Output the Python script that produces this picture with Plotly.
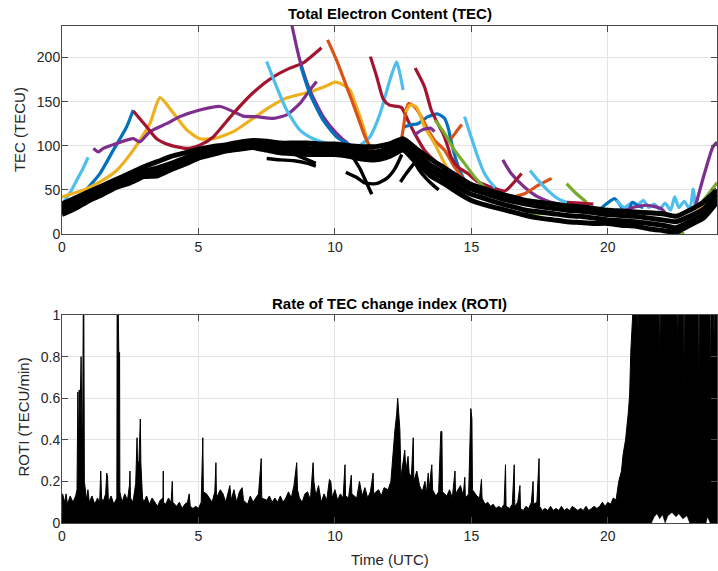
import plotly.graph_objects as go

# ---------------- axis ticks ----------------
X_TICKS = [0, 5, 10, 15, 20]
TEC_Y_TICKS = [0, 50, 100, 150, 200]
ROTI_Y_TICKS = [0, 0.2, 0.4, 0.6, 0.8, 1]
ROTI_Y_TICK_TEXT = ["0", "0.2", "0.4", "0.6", "0.8", "1"]

COLORS = {
    "blue": "#0072BD", "orange": "#D95319", "yellow": "#EDB120", "purple": "#7E2F8E",
    "green": "#77AC30", "lightblue": "#4DBEEE", "darkred": "#A2142F",
}

# ---------------- TEC: coloured satellite arcs (time h, TECU) ----------------
LIGHTBLUE_1 = [(0.05, 36), (0.3, 47), (0.54, 61), (0.75, 73), (0.96, 87)]
BLUE_1 = [(0.4, 38), (0.66, 42), (1.0, 54), (1.39, 68.5), (1.88, 95), (2.37, 121.5), (2.61, 140.5)]
DARKRED_1 = [(2.62, 139), (3.1, 121.5), (3.47, 108), (3.96, 100.7), (4.57, 97), (5.05, 100.7), (5.54, 110),
             (6.28, 136.7), (7.0, 160), (7.74, 178), (8.35, 188), (8.84, 194), (9.51, 211)]
YELLOW_1 = [(0.0, 42), (0.4, 46), (0.78, 49.5), (1.39, 59), (2.0, 72), (2.61, 95), (3.22, 125), (3.59, 154.5),
            (4.08, 137), (4.57, 118), (5.05, 108), (5.54, 108), (6.28, 116), (7.0, 131), (7.62, 144), (8.23, 154),
            (9.08, 161), (9.7, 168), (10.0, 172), (10.3, 169), (10.55, 163), (10.79, 144), (11.04, 121.5),
            (11.22, 102.6), (11.34, 95)]
PURPLE_1 = [(1.15, 97), (1.33, 93), (1.51, 97), (2.0, 102.6), (2.61, 108), (2.86, 104.5), (3.22, 116), (3.83, 125),
            (4.32, 133), (5.05, 140.5), (5.79, 144.5), (6.28, 138.6), (6.64, 133.6), (7.13, 133), (7.74, 131),
            (8.23, 135), (8.72, 148), (9.08, 163), (9.33, 172.7)]
LIGHTBLUE_2 = [(7.5, 195.5), (7.86, 167), (8.23, 140.5), (8.72, 117.7), (9.2, 108), (9.82, 102), (10.4, 99.5),
               (10.92, 100.7), (11.28, 110), (11.65, 136), (12.01, 174), (12.26, 195), (12.38, 182), (12.5, 163)]
PURPLE_2 = [(8.4, 240), (8.71, 197.4), (9.08, 163), (9.57, 133), (10.06, 114), (10.55, 100.7), (10.8, 96)]
BLUE_2 = [(8.75, 190), (9.08, 159), (9.57, 129), (10.06, 110), (10.43, 102.6), (10.7, 98)]
ORANGE_1 = [(9.73, 220), (10.06, 197), (10.43, 167), (10.79, 137), (11.1, 110.6), (11.28, 99.5), (11.47, 93.6),
            (11.65, 89.8)]
DARKRED_2 = [(11.3, 201), (11.53, 178.5), (11.77, 153), (12.0, 146), (12.43, 143.5), (12.67, 129), (12.92, 114),
             (13.28, 95), (13.77, 80), (14.26, 68.5), (14.75, 59)]
DARKRED_3 = [(12.94, 188), (13.28, 167), (13.53, 140.5), (13.77, 125), (13.96, 114), (14.14, 98.7), (14.26, 87),
             (14.5, 76), (14.87, 68.5), (15.24, 59), (15.73, 53), (16.09, 47.6)]
LIGHTBLUE_3 = [(14.75, 133), (14.99, 110), (15.24, 87), (15.48, 68.5), (15.85, 53), (16.2, 44)]
GREEN_1 = [(13.67, 129), (14.02, 114), (14.38, 95), (14.75, 80), (15.12, 64.6), (15.48, 53), (15.97, 44), (16.4, 42)]
BLUE_3 = [(12.55, 121.5), (12.8, 124), (13.04, 125), (13.41, 133), (13.77, 136), (14.02, 131), (14.14, 121.5),
          (14.26, 105), (14.4, 88), (14.6, 70), (14.87, 55), (15.2, 47)]
ORANGE_2 = [(11.9, 88), (12.2, 95), (12.45, 110), (12.6, 140), (12.7, 148), (12.92, 144), (13.16, 133),
            (13.41, 118), (13.65, 106), (14.02, 95), (14.38, 76), (14.75, 61), (15.1, 52)]
YELLOW_2 = [(12.6, 138), (12.75, 146), (12.98, 144), (13.28, 121.5), (13.65, 102.6), (14.02, 80), (14.38, 61),
            (14.8, 50)]
ORANGE_3 = [(14.26, 108), (14.45, 116), (14.65, 124)]
PURPLE_S = [(12.9, 112), (13.2, 118), (13.5, 120), (13.65, 116)]
PURPLE_3 = [(16.15, 84), (16.46, 68.5), (16.95, 53), (17.44, 42), (17.92, 36), (18.5, 32)]
DARKRED_4 = [(15.85, 51.4), (16.22, 48.7), (16.46, 55), (16.84, 68.5)]
ORANGE_4 = [(16.5, 42), (16.95, 45.7), (17.44, 55), (17.94, 63)]
LIGHTBLUE_4 = [(17.15, 72), (17.44, 61), (17.8, 49.5), (18.17, 40), (18.66, 34), (19.2, 30), (19.6, 27)]
GREEN_2 = [(18.49, 57), (18.78, 47.6), (19.22, 36)]
DARKRED_5 = [(18.5, 36), (19.0, 35), (19.47, 34)]
BLUE_4 = [(19.6, 25), (19.94, 34), (20.26, 40), (20.56, 27)]
BLUE_5 = [(20.8, 28), (20.9, 36), (21.1, 32), (21.3, 30)]
LIGHTBLUE_5 = [(20.3, 38), (20.6, 30), (20.9, 36), (21.1, 33), (21.3, 38), (21.5, 30), (21.7, 34), (21.9, 28),
               (22.1, 35), (22.3, 27), (22.45, 42), (22.6, 30), (22.8, 37), (23.0, 28), (23.13, 51), (23.2, 30)]
PURPLE_4 = [(20.49, 25), (20.98, 30.6), (21.46, 32.5), (21.95, 28.8), (22.13, 23)]
PURPLE_5 = [(23.17, 27), (23.54, 68.5), (23.85, 98.7), (24.0, 104)]
GREEN_3 = [(23.25, 30), (23.6, 42), (24.0, 58)]
ORANGE_5 = [(23.25, 23), (23.6, 32), (24.0, 44)]
YELLOW_3 = [(23.25, 25), (23.6, 35), (24.0, 48)]
GREEN_4 = [(16.9, 23), (17.5, 23), (18.0, 23)]
GREEN_5 = [(22.3, 1), (22.8, 0.5)]

ARCS = [
    ("lightblue", LIGHTBLUE_1), ("blue", BLUE_1), ("yellow", YELLOW_1), ("purple", PURPLE_1),
    ("darkred", DARKRED_1), ("lightblue", LIGHTBLUE_2), ("purple", PURPLE_2), ("blue", BLUE_2),
    ("orange", ORANGE_1), ("darkred", DARKRED_2), ("blue", BLUE_3), ("orange", ORANGE_2), ("yellow", YELLOW_2),
    ("purple", PURPLE_S), ("darkred", DARKRED_3), ("green", GREEN_1), ("lightblue", LIGHTBLUE_3),
    ("orange", ORANGE_3), ("purple", PURPLE_3), ("darkred", DARKRED_4), ("orange", ORANGE_4),
    ("lightblue", LIGHTBLUE_4), ("green", GREEN_2), ("darkred", DARKRED_5), ("blue", BLUE_4),
    ("lightblue", LIGHTBLUE_5), ("blue", BLUE_5), ("purple", PURPLE_4), ("green", GREEN_4), ("green", GREEN_5),
    ("yellow", YELLOW_3), ("orange", ORANGE_5), ("green", GREEN_3), ("purple", PURPLE_5),
]

# ---------------- TEC: black (dense) satellite arcs ----------------
BLACK_TIME = [0, 0.5, 1, 1.5, 2, 2.5, 3, 3.5, 4, 4.5, 5, 5.5, 6, 6.5, 7, 7.5, 8, 8.5, 9, 9.5, 10, 10.5, 11, 11.5,
              12, 12.5, 13, 13.5, 14, 14.5, 15, 15.5, 16, 16.5, 17, 17.5, 18, 18.5, 19, 19.5, 20, 20.5, 21, 21.5,
              22, 22.5, 23, 23.5, 24]
BLACK_A = [34, 41, 48, 55, 62, 69, 76, 82, 88, 92, 96, 99, 101, 104, 106, 105, 103, 103, 103, 102, 102, 100, 99, 99,
           102, 108, 96, 85, 75, 65, 56, 51, 46, 42, 38, 36, 34, 32, 31, 29, 27, 26, 25, 24, 23, 20, 27, 36, 50]
BLACK_B = [30, 37, 45, 51, 58, 64, 71, 75, 80, 86, 92, 96, 98, 101, 103, 102, 99, 98, 98, 97, 97, 96, 94, 93,
           97, 103, 91, 78, 69, 59, 51, 46, 41, 37, 34, 31, 29, 27, 26, 24, 22, 21, 20, 18, 16, 14, 20, 28, 45]
BLACK_C = [26, 33, 41, 47, 55, 61, 68, 70, 76, 82, 89, 93, 96, 98, 100, 98, 95, 94, 94, 94, 93, 92, 90, 88,
           92, 99, 86, 72, 63, 53, 45, 40, 35, 31, 27, 25, 23, 21, 20, 18, 16, 15, 14, 12, 10, 7, 14, 22, 40]
BLACK_D = [22, 29, 38, 45, 53, 58, 65, 66, 73, 79, 86, 90, 94, 96, 98, 95, 92, 91, 90, 90, 90, 88, 85, 84,
           88, 95, 80, 66, 57, 47, 38, 33, 29, 25, 21, 18, 16, 14, 13, 12, 12, 10, 9, 6, 4, 2, 10, 18, 36]
BLACK_BRANCH_1 = [(7.5, 85.5), (8.0, 84), (8.5, 83), (9.0, 80), (9.3, 77)]
BLACK_BRANCH_2 = [(8.2, 95), (8.7, 88), (9.3, 80)]
BLACK_BRANCH_3 = [(10.4, 70), (10.8, 64), (11.1, 58), (11.5, 57), (11.9, 63), (12.2, 74), (12.45, 90)]
BLACK_BRANCH_4 = [(10.6, 90), (10.9, 75), (11.1, 62), (11.35, 45)]
BLACK_BRANCH_5 = [(12.4, 59), (12.6, 68), (12.9, 80)]
BLACK_BRANCH_6 = [(12.7, 95), (13.1, 72), (13.5, 58), (13.8, 50)]
BLACK_BRANCHES = [BLACK_BRANCH_1, BLACK_BRANCH_2, BLACK_BRANCH_3, BLACK_BRANCH_4, BLACK_BRANCH_5, BLACK_BRANCH_6]

# ---------------- ROTI: upper envelope of all satellites (time h, TECU/min) ----------------
ROTI_UPPER = [
    (0, 0.0), (0.02, 0.14), (0.1, 0.1), (0.15, 0.14), (0.2, 0.09), (0.3, 0.13), (0.4, 0.1), (0.5, 0.13),
    (0.55, 0.16), (0.58, 0.63), (0.6, 0.3), (0.63, 0.64), (0.66, 0.5), (0.7, 0.8), (0.72, 0.55), (0.75, 0.3),
    (0.78, 1.05), (0.8, 1.05), (0.82, 0.2), (0.86, 0.15), (0.9, 0.11), (0.95, 0.16), (1.0, 0.1), (1.1, 0.13),
    (1.2, 0.09), (1.3, 0.12), (1.38, 0.1), (1.42, 0.25), (1.45, 0.12), (1.5, 0.1), (1.6, 0.14), (1.64, 0.24),
    (1.67, 0.22), (1.7, 0.1), (1.8, 0.13), (1.9, 0.09), (1.97, 0.11), (2.01, 0.12), (2.02, 1.05), (2.06, 1.05),
    (2.08, 0.82), (2.11, 0.82), (2.12, 0.15), (2.2, 0.1), (2.3, 0.14), (2.4, 0.11), (2.47, 0.18), (2.49, 0.25),
    (2.51, 0.12), (2.6, 0.1), (2.7, 0.19), (2.75, 0.41), (2.77, 0.28), (2.82, 0.3), (2.87, 0.5), (2.89, 0.29),
    (2.95, 0.12), (3.0, 0.1), (3.1, 0.13), (3.2, 0.09), (3.3, 0.12), (3.4, 0.1), (3.5, 0.08), (3.6, 0.11),
    (3.7, 0.12), (3.71, 0.25), (3.72, 0.1), (3.8, 0.09), (3.9, 0.12), (4.0, 0.1), (4.04, 0.2), (4.06, 0.1),
    (4.2, 0.08), (4.3, 0.1), (4.4, 0.07), (4.5, 0.09), (4.6, 0.1), (4.66, 0.14), (4.7, 0.08), (4.8, 0.07),
    (4.9, 0.08), (5.0, 0.07), (5.1, 0.1), (5.16, 0.41), (5.18, 0.15), (5.3, 0.14), (5.4, 0.12), (5.5, 0.1),
    (5.6, 0.15), (5.64, 0.29), (5.66, 0.12), (5.8, 0.16), (5.9, 0.14), (6.0, 0.1), (6.15, 0.18), (6.2, 0.11),
    (6.3, 0.16), (6.4, 0.1), (6.5, 0.15), (6.6, 0.17), (6.65, 0.11), (6.8, 0.09), (6.9, 0.13), (7.0, 0.1),
    (7.1, 0.12), (7.2, 0.14), (7.3, 0.31), (7.32, 0.12), (7.5, 0.11), (7.6, 0.13), (7.7, 0.1), (7.8, 0.12),
    (7.9, 0.1), (8.0, 0.13), (8.1, 0.1), (8.2, 0.12), (8.3, 0.15), (8.4, 0.12), (8.5, 0.18), (8.6, 0.29),
    (8.63, 0.16), (8.7, 0.12), (8.8, 0.1), (8.9, 0.14), (9.0, 0.15), (9.1, 0.11), (9.2, 0.29), (9.23, 0.2),
    (9.3, 0.13), (9.4, 0.18), (9.5, 0.1), (9.6, 0.14), (9.7, 0.11), (9.8, 0.21), (9.85, 0.2), (9.9, 0.12),
    (10.0, 0.16), (10.1, 0.11), (10.2, 0.14), (10.3, 0.12), (10.37, 0.28), (10.39, 0.13), (10.5, 0.12),
    (10.6, 0.23), (10.62, 0.14), (10.8, 0.12), (10.9, 0.2), (11.0, 0.13), (11.1, 0.17), (11.2, 0.12),
    (11.3, 0.15), (11.4, 0.24), (11.42, 0.14), (11.6, 0.16), (11.7, 0.13), (11.8, 0.17), (11.95, 0.16),
    (12.05, 0.2), (12.2, 0.45), (12.26, 0.52), (12.3, 0.6), (12.34, 0.5), (12.38, 0.45), (12.42, 0.22),
    (12.5, 0.3), (12.56, 0.35), (12.6, 0.25), (12.68, 0.32), (12.72, 0.24), (12.8, 0.22), (12.87, 0.41),
    (12.89, 0.2), (13.0, 0.25), (13.1, 0.18), (13.2, 0.15), (13.3, 0.2), (13.35, 0.14), (13.42, 0.24),
    (13.44, 0.15), (13.55, 0.28), (13.58, 0.16), (13.7, 0.13), (13.8, 0.15), (13.88, 0.44), (13.92, 0.44),
    (13.94, 0.15), (14.1, 0.13), (14.2, 0.16), (14.3, 0.12), (14.4, 0.25), (14.42, 0.14), (14.6, 0.18),
    (14.7, 0.13), (14.76, 0.22), (14.78, 0.12), (14.9, 0.14), (14.98, 0.55), (15.02, 0.5), (15.04, 0.16),
    (15.2, 0.13), (15.3, 0.12), (15.37, 0.21), (15.39, 0.12), (15.5, 0.09), (15.6, 0.1), (15.7, 0.08),
    (15.8, 0.09), (15.9, 0.07), (16.0, 0.08), (16.1, 0.07), (16.2, 0.09), (16.25, 0.28), (16.27, 0.08),
    (16.4, 0.07), (16.5, 0.09), (16.57, 0.28), (16.59, 0.08), (16.7, 0.1), (16.78, 0.18), (16.8, 0.07),
    (16.9, 0.06), (17.0, 0.08), (17.1, 0.07), (17.2, 0.1), (17.26, 0.2), (17.28, 0.09), (17.4, 0.1),
    (17.48, 0.31), (17.5, 0.08), (17.6, 0.06), (17.7, 0.07), (17.8, 0.06), (17.9, 0.08), (18.0, 0.06),
    (18.1, 0.07), (18.2, 0.06), (18.3, 0.08), (18.4, 0.06), (18.5, 0.07), (18.6, 0.06), (18.7, 0.08),
    (18.8, 0.07), (18.9, 0.06), (19.0, 0.07), (19.1, 0.06), (19.2, 0.08), (19.3, 0.06), (19.4, 0.07),
    (19.5, 0.08), (19.6, 0.07), (19.7, 0.08), (19.8, 0.1), (19.9, 0.08), (20.0, 0.1), (20.1, 0.09),
    (20.2, 0.12), (20.3, 0.11), (20.4, 0.2), (20.5, 0.25), (20.56, 0.33), (20.65, 0.4), (20.75, 0.53),
    (20.8, 0.62), (20.84, 0.82), (20.9, 0.95), (20.93, 1.05), (21.09, 1.05), (21.11, 0.9), (21.13, 1.05),
    (21.88, 1.05), (21.9, 0.67), (21.92, 1.05), (22.54, 1.05), (22.56, 0.8), (22.58, 1.05), (22.78, 1.05),
    (22.8, 0.55), (22.82, 1.05), (23.31, 1.05), (23.33, 0.45), (23.35, 1.05), (23.74, 1.05), (23.76, 0.6),
    (23.78, 1.05), (23.88, 1.05), (23.9, 0.75), (23.92, 1.05), (24.0, 1.05),
]
# lower envelope (gaps with no data near zero during the storm)
ROTI_LOWER = [
    (0, 0), (21.6, 0), (21.7, 0.03), (21.8, 0.045), (21.9, 0.02), (22.0, 0.04), (22.1, 0), (22.2, 0.035),
    (22.35, 0.05), (22.5, 0.03), (22.6, 0.045), (22.75, 0.02), (22.9, 0.035), (23.0, 0), (23.6, 0),
    (23.65, 0.03), (23.75, 0), (24.0, 0),
]

FONT = "Liberation Sans, Arial, Helvetica, sans-serif"
TEXT = "#262626"
GRID = "#e3e3e3"
AXLINE = "#4a4a4a"

fig = go.Figure()


def xs(points):
    return [p[0] for p in points]


def ys(points):
    return [p[1] for p in points]


for key, pts in ARCS:
    fig.add_trace(go.Scatter(x=xs(pts), y=ys(pts), mode="lines", xaxis="x", yaxis="y",
                             line=dict(color=COLORS[key], width=3.2, shape="spline", smoothing=0.6),
                             showlegend=False, hoverinfo="skip"))

for series in (BLACK_A, BLACK_B, BLACK_C, BLACK_D):
    fig.add_trace(go.Scatter(x=BLACK_TIME, y=series, mode="lines", xaxis="x", yaxis="y",
                             line=dict(color="black", width=5.0, shape="spline", smoothing=0.5),
                             showlegend=False, hoverinfo="skip"))
for pts in BLACK_BRANCHES:
    fig.add_trace(go.Scatter(x=xs(pts), y=ys(pts), mode="lines", xaxis="x", yaxis="y",
                             line=dict(color="black", width=3.4, shape="spline", smoothing=0.6),
                             showlegend=False, hoverinfo="skip"))

fig.add_trace(go.Scatter(x=xs(ROTI_LOWER), y=ys(ROTI_LOWER), mode="lines", xaxis="x2", yaxis="y2",
                         line=dict(color="black", width=0.5), showlegend=False, hoverinfo="skip"))
fig.add_trace(go.Scatter(x=xs(ROTI_UPPER), y=ys(ROTI_UPPER), mode="lines", xaxis="x2", yaxis="y2",
                         fill="tonexty", fillcolor="black",
                         line=dict(color="black", width=1.0), showlegend=False, hoverinfo="skip"))

axis_common = dict(
    showgrid=True, gridcolor=GRID, gridwidth=1, zeroline=False,
    showline=True, linecolor=AXLINE, linewidth=1, mirror="ticks",
    ticks="inside", ticklen=6, tickwidth=1, tickcolor=AXLINE,
    tickfont=dict(family=FONT, size=14, color=TEXT),
)

TOP_DOMAIN = [0.5815, 1.0]
BOT_DOMAIN = [0.0, 0.4185]

fig.update_layout(
    width=718, height=571,
    margin=dict(l=62, r=1, t=26, b=48),
    paper_bgcolor="white", plot_bgcolor="white",
    font=dict(family=FONT, color=TEXT),
    showlegend=False,
    xaxis=dict(axis_common, domain=[0, 1], range=[0, 24], anchor="y", tickvals=X_TICKS),
    yaxis=dict(axis_common, domain=TOP_DOMAIN, range=[0, 235.7], anchor="x", tickvals=TEC_Y_TICKS,
               ticklabelstandoff=-2),
    xaxis2=dict(axis_common, domain=[0, 1], range=[0, 24], anchor="y2", tickvals=X_TICKS),
    yaxis2=dict(axis_common, domain=BOT_DOMAIN, range=[0, 1], anchor="x2", tickvals=ROTI_Y_TICKS,
                ticktext=ROTI_Y_TICK_TEXT, ticklabelstandoff=-2),
    annotations=[
        dict(text="<b>Total Electron Content (TEC)</b>", x=0.5, y=1.0252, xref="paper", yref="paper",
             showarrow=False, xanchor="center", yanchor="middle", font=dict(family=FONT, size=15, color="black")),
        dict(text="<b>Rate of TEC change index (ROTI)</b>", x=0.5, y=0.4416, xref="paper", yref="paper",
             showarrow=False, xanchor="center", yanchor="middle", font=dict(family=FONT, size=15, color="black")),
        dict(text="Time (UTC)", x=0.5, y=-0.0744, xref="paper", yref="paper", showarrow=False,
             xanchor="center", yanchor="middle", font=dict(family=FONT, size=15, color=TEXT)),
        dict(text="TEC (TECU)", x=-0.0656, y=0.7907, xref="paper", yref="paper", showarrow=False, textangle=-90,
             xanchor="center", yanchor="middle", font=dict(family=FONT, size=15, color=TEXT)),
        dict(text="ROTI (TECU/min)", x=-0.0595, y=0.2123, xref="paper", yref="paper", showarrow=False,
             textangle=-90, xanchor="center", yanchor="middle", font=dict(family=FONT, size=15, color=TEXT)),
    ],
)

fig.write_html("out.html")
